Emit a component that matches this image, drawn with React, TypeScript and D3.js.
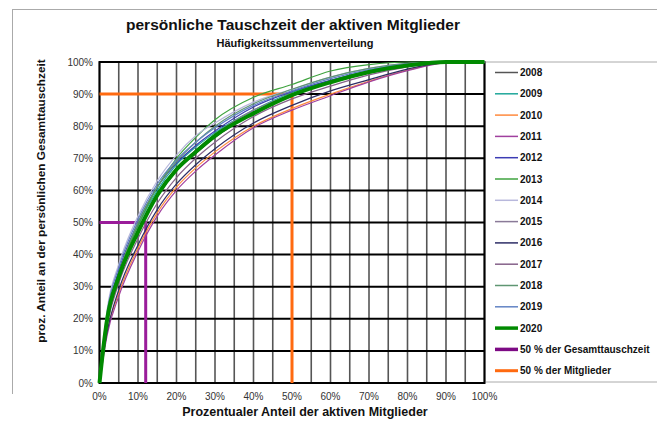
import * as d3 from "d3";

const W = 657;
const H = 423;

// x positions (percent of active members) for every series
const xPts = [0, 1, 2, 5, 10, 15, 20, 25, 30, 40, 50, 60, 70, 80, 90, 100];

const years = ["2008", "2009", "2010", "2011", "2012", "2013", "2014", "2015", "2016", "2017", "2018", "2019", "2020"];
const yearColors = ["#555555", "#1fa79a", "#ff8a3d", "#a0409e", "#3c3cb4", "#3fa33f", "#b8b8dc", "#8a7a98", "#2e2e66", "#86628a", "#5f9672", "#6384c4", "#008a00"];

const v2008 = [0, 11, 19, 32, 47, 58, 66, 71.5, 76.5, 84, 89.5, 93.5, 96.5, 98.8, 100, 100];
const v2009 = [0, 12, 20, 34, 49, 60, 68, 73.5, 78, 85, 90.5, 94.2, 97.3, 99.2, 100, 100];
const v2010 = [0, 9, 16, 28, 42, 53, 61, 67, 72, 80, 85.5, 90, 94, 97.5, 99.8, 100];
const v2011 = [0, 8, 15, 27, 41, 52, 60, 66, 71, 79.5, 85, 89.5, 93.8, 97.3, 99.7, 100];
const v2012 = [0, 12, 21, 35, 50, 61, 68.5, 74, 78.5, 86, 90.8, 94.3, 97.2, 99.2, 100, 100];
const v2013 = [0, 11, 20, 34, 49, 61, 70, 76.5, 82, 89, 93, 97.2, 99.2, 100, 100, 100];
const v2014 = [0, 13, 23, 37, 52, 63, 71, 77, 81, 87.5, 91.5, 95.3, 98, 99.5, 100, 100];
const v2015 = [0, 12, 20, 33, 48, 59, 67, 72.5, 77.5, 85, 90, 94, 97, 99, 100, 100];
const v2016 = [0, 9, 16, 29, 43, 54, 62, 68, 73, 81, 86.5, 91, 94.5, 97.8, 99.8, 100];
const v2017 = [0, 10, 18, 31, 45, 56, 64, 70, 75, 83, 88.5, 92.5, 96, 98.5, 100, 100];
const v2018 = [0, 12, 20, 34, 50, 61, 69, 75, 80, 87, 91.5, 95.3, 98, 99.6, 100, 100];
const v2019 = [0, 12, 22, 36, 51, 62, 69.5, 75, 79.5, 86.5, 91, 94.8, 97.6, 99.4, 100, 100];
const v2020 = [0, 11, 20, 33, 47, 58.5, 66.5, 72, 77, 84, 89.7, 93.7, 96.9, 98.9, 100, 100];

const seriesValues = [v2008, v2009, v2010, v2011, v2012, v2013, v2014, v2015, v2016, v2017, v2018, v2019, v2020];

// marker lines: 50 % of total time reached by 12 % of members; 90 % reached by 50 %
const markerTime = [[0, 50], [12, 50], [12, 0]];
const markerMembers = [[0, 90], [50, 90], [50, 0]];

const xTicks = d3.range(0, 101, 10);
const yTicks = d3.range(0, 101, 10);
const xGrid = d3.range(0, 101, 5);

const font = "'Liberation Sans', Arial, sans-serif";

export default function App() {
  const x = d3.scaleLinear().domain([0, 100]).range([99.5, 484.5]);
  const y = d3.scaleLinear().domain([0, 100]).range([383, 62]);

  const line = d3
    .line<number>()
    .x((_, i) => x(xPts[i]))
    .y((d) => y(d))
    .curve(d3.curveMonotoneX);

  const poly = d3
    .line<number[]>()
    .x((d) => x(d[0]))
    .y((d) => y(d[1]));

  const legendItems = [
    ...years.map((yr, i) => ({ label: yr, color: yearColors[i], w: i === 12 ? 3.5 : 1.5 })),
    { label: "50 % der Gesamttauschzeit", color: "#7d0a84", w: 3.5 },
    { label: "50 % der Mitglieder", color: "#ff6a10", w: 3 },
  ];

  return (
    <div style={{ position: "absolute", left: 0, top: 0 }}>
      <svg width={W} height={H} style={{ display: "block", background: "#fff" }}>
        {/* outer frame */}
        <line x1={12} x2={W} y1={9.5} y2={9.5} stroke="#aaa" strokeWidth={1} />
        <line x1={12.5} x2={12.5} y1={9.5} y2={394} stroke="#aaa" strokeWidth={1} />

        <text x={293} y={30} textAnchor="middle" fontFamily={font} fontWeight="bold" fontSize={15.5} fill="#111">
          persönliche Tauschzeit der aktiven Mitglieder
        </text>
        <text x={295} y={47} textAnchor="middle" fontFamily={font} fontWeight="bold" fontSize={11} fill="#111">
          Häufigkeitssummenverteilung
        </text>

        {/* grid */}
        {xGrid.map((t) => (
          <line key={"vx" + t} x1={x(t)} x2={x(t)} y1={y(0)} y2={y(100)} stroke="#555" strokeWidth={1.6} />
        ))}
        {yTicks.map((t) => (
          <line key={"hy" + t} x1={x(0)} x2={x(100)} y1={y(t)} y2={y(t)} stroke="#000" strokeWidth={2} />
        ))}
        <rect x={x(0)} y={y(100)} width={x(100) - x(0)} height={y(0) - y(100)} fill="none" stroke="#000" strokeWidth={2} />

        {/* marker lines */}
        <path d={poly(markerMembers) || ""} fill="none" stroke="#ff6a10" strokeWidth={3} />
        <path d={poly(markerTime) || ""} fill="none" stroke="#9a1c9a" strokeWidth={3} />

        {/* series */}
        {seriesValues.map((vals, i) => (
          <path
            key={years[i]}
            d={line(vals) || ""}
            fill="none"
            stroke={yearColors[i]}
            strokeWidth={i === 12 ? 4 : 1.2}
          />
        ))}

        {/* ticks */}
        {yTicks.map((t) => (
          <text key={"yt" + t} x={93} y={y(t) + 3.5} textAnchor="end" fontFamily={font} fontSize={10} fill="#333">
            {t}%
          </text>
        ))}
        {xTicks.map((t) => (
          <text key={"xt" + t} x={x(t)} y={400} textAnchor="middle" fontFamily={font} fontSize={10} fill="#333">
            {t}%
          </text>
        ))}

        <text x={305} y={416} textAnchor="middle" fontFamily={font} fontWeight="bold" fontSize={12.5} fill="#111">
          Prozentualer Anteil der aktiven Mitglieder
        </text>
        <text
          transform={`translate(45,201) rotate(-90)`}
          textAnchor="middle"
          fontFamily={font}
          fontWeight="bold"
          fontSize={11.8}
          fill="#111"
        >
          proz. Anteil an der persönlichen Gesamttauschzeit
        </text>

        {/* legend */}
        <line x1={486} x2={W} y1={62} y2={62} stroke="#aaa" strokeWidth={1} />
        <line x1={486} x2={W} y1={382} y2={382} stroke="#aaa" strokeWidth={1} />
        {legendItems.map((it, i) => {
          const ly = 72.5 + i * 21.3;
          return (
            <g key={it.label}>
              <line x1={495} x2={518} y1={ly} y2={ly} stroke={it.color} strokeWidth={it.w} />
              <text x={520} y={ly + 3.5} fontFamily={font} fontWeight="bold" fontSize={10} fill="#111">
                {it.label}
              </text>
            </g>
          );
        })}
      </svg>
    </div>
  );
}
